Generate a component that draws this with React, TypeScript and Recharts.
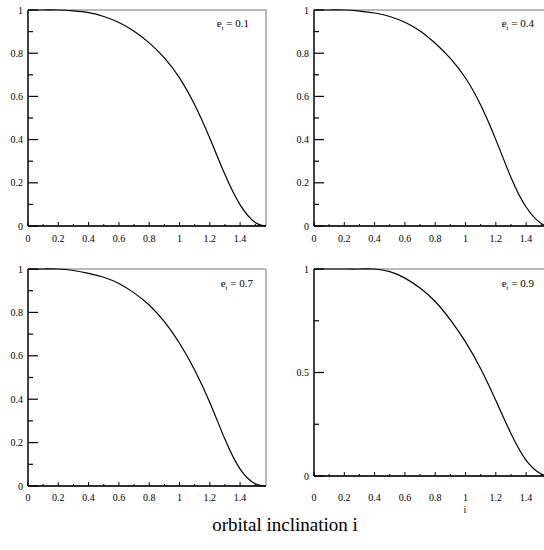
import { LineChart, Line, XAxis, YAxis, ReferenceArea } from "recharts";

const XMAX = 1.5708;
const FONT = "'Liberation Serif', 'Times New Roman', serif";

// inclination i (rad) sampled along the curve
const inclination = [0, 0.1, 0.2, 0.3, 0.4, 0.5, 0.6, 0.7, 0.8, 0.9, 1.0, 1.1, 1.2, 1.3, 1.4, 1.5, XMAX];

const e01 = [1, 1, 1, 0.996, 0.988, 0.97, 0.942, 0.902, 0.848, 0.778, 0.686, 0.561, 0.406, 0.238, 0.098, 0.016, 0];
const e04 = [1, 1, 1, 0.995, 0.986, 0.97, 0.943, 0.903, 0.846, 0.776, 0.685, 0.56, 0.4, 0.225, 0.088, 0.012, 0];
const e07 = [1, 1, 1, 0.993, 0.98, 0.962, 0.933, 0.89, 0.834, 0.757, 0.658, 0.535, 0.385, 0.215, 0.078, 0.01, 0];
const e09 = [1, 1, 1, 1, 1, 0.987, 0.956, 0.908, 0.843, 0.754, 0.648, 0.518, 0.365, 0.205, 0.076, 0.01, 0];

const xMajor = [0, 0.2, 0.4, 0.6, 0.8, 1, 1.2, 1.4];
const xMinor = [0.1, 0.3, 0.5, 0.7, 0.9, 1.1, 1.3, 1.5];
const yMajorA = [0, 0.2, 0.4, 0.6, 0.8, 1];
const yMinorA = [0.1, 0.3, 0.5, 0.7, 0.9];
const yMajorB = [0, 0.5, 1];
const yMinorB = [0.25, 0.75];

const panels = [
  { label: "0.1", values: e01, left: 28, top: 10, h: 216, xLab: 15.5, yMajor: yMajorA, yMinor: yMinorA },
  { label: "0.4", values: e04, left: 314, top: 10, h: 216, xLab: 15.5, yMajor: yMajorA, yMinor: yMinorA },
  { label: "0.7", values: e07, left: 28, top: 269, h: 217, xLab: 15, yMajor: yMajorA, yMinor: yMinorA },
  { label: "0.9", values: e09, left: 314, top: 269, h: 207, xLab: 25, yMajor: yMajorB, yMinor: yMinorB },
];

function XTick(props: any) {
  const { x, y, payload, labelOffset } = props;
  const major = xMajor.includes(payload.value);
  return (
    <g>
      <line x1={x} y1={y} x2={x} y2={y - (major ? 4 : 2)} stroke="#000" strokeWidth={1} />
      {major && (
        <text x={x} y={y + labelOffset} textAnchor="middle" fontSize={10} fontFamily={FONT} fill="#000">
          {String(payload.value)}
        </text>
      )}
    </g>
  );
}

function YTick(props: any) {
  const { x, y, payload, majors } = props;
  const major = majors.includes(payload.value);
  return (
    <g>
      <line x1={x} y1={y} x2={x + (major ? 10 : 5)} y2={y} stroke="#000" strokeWidth={1.2} />
      {major && (
        <text x={x - 5} y={y + 3.5} textAnchor="end" fontSize={10} fontFamily={FONT} fill="#000">
          {String(payload.value)}
        </text>
      )}
    </g>
  );
}

function Panel({ p }: { p: (typeof panels)[number] }) {
  const data = inclination.map((i, k) => ({ i, v: p.values[k] }));
  const yTicks = [...p.yMajor, ...p.yMinor].sort((a, b) => a - b);
  const xTicks = [...xMajor, ...xMinor].sort((a, b) => a - b);
  return (
    <div style={{ position: "absolute", left: p.left - 28, top: p.top - 10 }}>
      <LineChart width={276} height={p.h + 40} data={data} margin={{ top: 10, right: 10, left: 0, bottom: 0 }}>
        <ReferenceArea x1={0} x2={XMAX} y1={0} y2={1} fill="none" stroke="#777" strokeWidth={1} />
        <XAxis
          dataKey="i"
          type="number"
          domain={[0, XMAX]}
          ticks={xTicks}
          interval={0}
          height={30}
          tickSize={0}
          tickMargin={0}
          tickLine={false}
          axisLine={{ stroke: "#000", strokeWidth: 1.3 }}
          tick={(t: any) => <XTick {...t} labelOffset={p.xLab} />}
        />
        <YAxis
          type="number"
          domain={[0, 1]}
          ticks={yTicks}
          interval={0}
          width={28}
          tickSize={0}
          tickMargin={0}
          tickLine={false}
          axisLine={{ stroke: "#000", strokeWidth: 1.3 }}
          tick={(t: any) => <YTick {...t} majors={p.yMajor} />}
        />
        <Line dataKey="v" type="natural" dot={false} stroke="#000" strokeWidth={1.2} isAnimationActive={false} />
      </LineChart>
    </div>
  );
}

export default function App() {
  const labelPos = [
    { x: 249, y: 27 },
    { x: 534, y: 27 },
    { x: 253, y: 287 },
    { x: 534, y: 287 },
  ];
  return (
    <div style={{ position: "absolute", left: 0, top: 0, width: 544, height: 550, overflow: "hidden", background: "#fff" }}>
      {panels.map((p) => (
        <Panel key={p.label} p={p} />
      ))}
      <svg width={544} height={550} style={{ position: "absolute", left: 0, top: 0, pointerEvents: "none" }}>
        {panels.map((p, k) => (
          <text key={p.label} x={labelPos[k].x} y={labelPos[k].y} textAnchor="end" fontSize={11} fontFamily={FONT} fill="#000">
            e<tspan fontSize={7} dy={3}>t</tspan>
            <tspan dy={-3}> = {p.label}</tspan>
          </text>
        ))}
        <text x={465} y={513} textAnchor="middle" fontSize={10} fontFamily={FONT} fill="#000">i</text>
        <text x={285} y={531} textAnchor="middle" fontSize={19} fontFamily={FONT} fill="#000">orbital inclination i</text>
      </svg>
    </div>
  );
}
